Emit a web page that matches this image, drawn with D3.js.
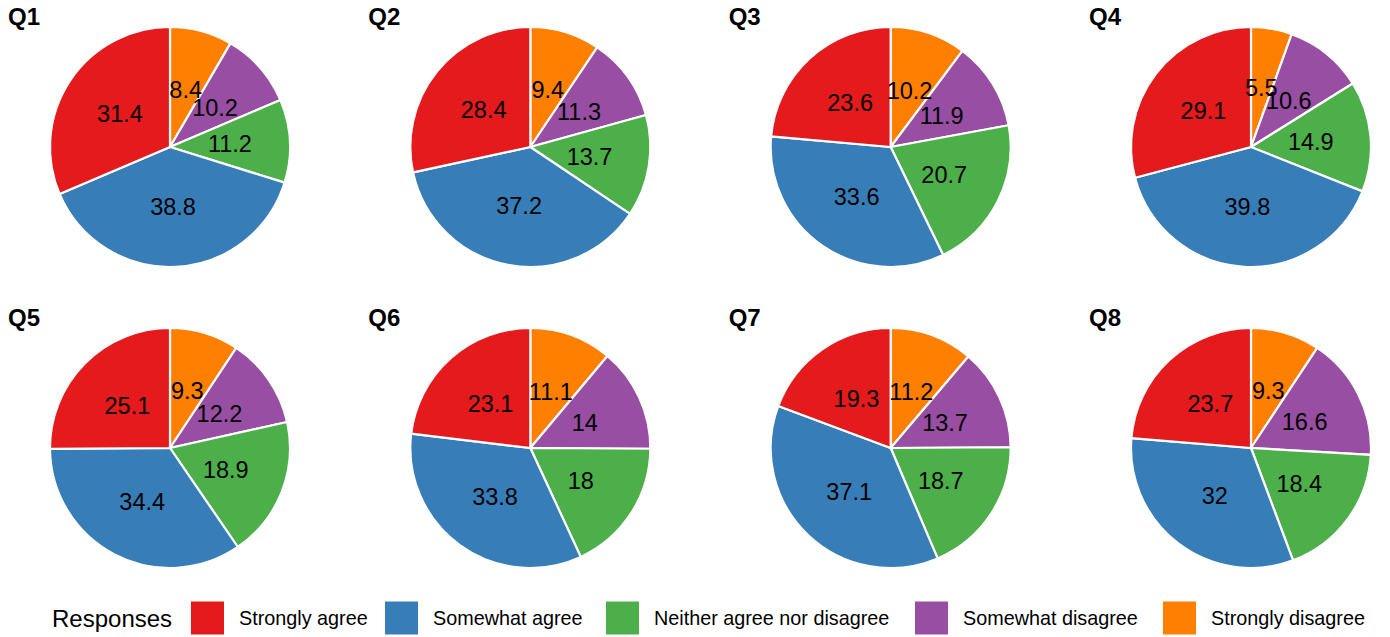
<!DOCTYPE html>
<html>
<head>
<meta charset="utf-8">
<script src="https://cdn.jsdelivr.net/npm/d3@7"></script>
<style>
  html, body { margin: 0; padding: 0; background: #ffffff; }
  svg { display: block; font-family: "Liberation Sans", Arial, Helvetica, sans-serif; }
</style>
</head>
<body>
<svg id="chart" width="1390" height="637"></svg>
<script>
// ---- data ----
const questions = ["Q1", "Q2", "Q3", "Q4", "Q5", "Q6", "Q7", "Q8"];
const categories = ["Strongly agree", "Somewhat agree", "Neither agree nor disagree", "Somewhat disagree", "Strongly disagree"];
const stronglyAgree    = [31.4, 28.4, 23.6, 29.1, 25.1, 23.1, 19.3, 23.7];
const somewhatAgree    = [38.8, 37.2, 33.6, 39.8, 34.4, 33.8, 37.1, 32];
const neitherAgree     = [11.2, 13.7, 20.7, 14.9, 18.9, 18, 18.7, 18.4];
const somewhatDisagree = [10.2, 11.3, 11.9, 10.6, 12.2, 14, 13.7, 16.6];
const stronglyDisagree = [8.4, 9.4, 10.2, 5.5, 9.3, 11.1, 11.2, 9.3];
const seriesValues = [stronglyAgree, somewhatAgree, neitherAgree, somewhatDisagree, stronglyDisagree];
const palette = ["#E41A1C", "#377EB8", "#4DAF4A", "#984EA3", "#FF7F00"];

// ---- layout ----
const svg = d3.select("#chart");
const radius = 120;
const colX = d3.scalePoint().domain([0, 1, 2, 3]).range([170, 1251]);
const rowY = d3.scalePoint().domain([0, 1]).range([147, 448]);
const color = d3.scaleOrdinal().domain(categories).range(palette);
const legendKeyX = [191, 385, 606, 915, 1163];

const pie = d3.pie().sort(null).value(d => d.value);
const arc = d3.arc().innerRadius(0).outerRadius(radius);
const labelArc = d3.arc().innerRadius(radius * 0.5).outerRadius(radius * 0.5);

questions.forEach((q, i) => {
  const cx = colX(i % 4), cy = rowY(Math.floor(i / 4));
  // clockwise from top: strongly disagree ... strongly agree
  const rows = categories.map((c, k) => ({ cat: c, value: seriesValues[k][i] })).reverse();
  const arcs = pie(rows);
  const g = svg.append("g").attr("transform", `translate(${cx},${cy})`);

  g.selectAll("path").data(arcs).join("path")
    .attr("d", arc)
    .attr("fill", d => color(d.data.cat))
    .attr("stroke", "#ffffff")
    .attr("stroke-width", 2.2)
    .attr("stroke-linejoin", "round");

  g.selectAll("text.lbl").data(arcs).join("text")
    .attr("class", "lbl")
    .attr("transform", d => `translate(${labelArc.centroid(d)})`)
    .attr("text-anchor", "middle")
    .attr("dy", "0.36em")
    .attr("font-size", 23.5)
    .attr("fill", "#000000")
    .text(d => d.data.value);

  svg.append("text")
    .attr("x", cx - 162)
    .attr("y", cy - 122)
    .attr("font-size", 24)
    .attr("font-weight", "bold")
    .attr("fill", "#000000")
    .text(q);
});

// ---- legend ----
const legend = svg.append("g").attr("transform", "translate(0,618)");
legend.append("text")
  .attr("x", 52).attr("y", 0).attr("dy", "0.36em")
  .attr("font-size", 24).attr("fill", "#000000")
  .text("Responses");

const keySize = 33;
categories.forEach((c, k) => {
  const x = legendKeyX[k];
  legend.append("rect")
    .attr("x", x).attr("y", -keySize / 2)
    .attr("width", keySize).attr("height", keySize)
    .attr("fill", color(c));
  legend.append("text")
    .attr("x", x + 48).attr("y", 0).attr("dy", "0.36em")
    .attr("font-size", 19.8).attr("fill", "#000000")
    .text(c);
});
</script>
</body>
</html>
